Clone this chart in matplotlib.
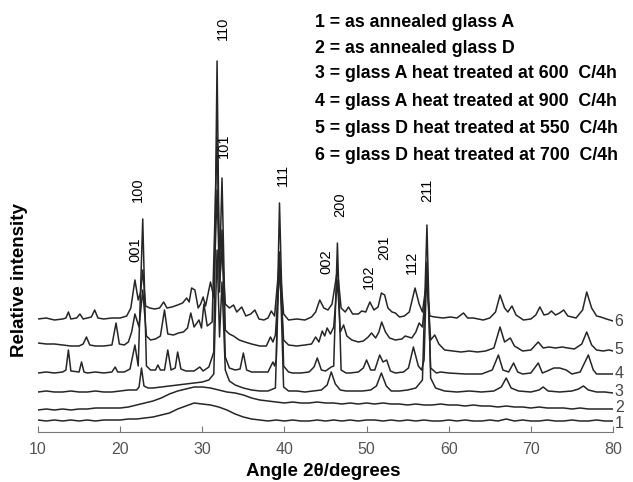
import numpy as np
import matplotlib
matplotlib.use('Agg')
import matplotlib.pyplot as plt

plt.rcParams['font.family'] = ['Liberation Sans', 'DejaVu Sans']

# XRD traces: (2theta in degrees, height above the axis line)
trace_1 = [(10, 12), (11, 11), (12, 12), (13, 11), (14, 12), (15, 11), (16, 12), (17, 11), (18, 12),
           (19, 12), (20, 12), (21, 13), (22, 13), (23, 14), (24, 15), (25, 17), (26, 19), (27, 23),
           (28, 26), (29, 29), (30, 28), (31, 27), (32, 25), (33, 22), (34, 18), (35, 15), (36, 13),
           (37, 12), (38, 11), (39, 12), (40, 11), (41, 12), (42, 11), (43, 11), (44, 12), (45, 11),
           (46, 12), (47, 11), (48, 12), (49, 11), (50, 12), (51, 12), (52, 11), (53, 12), (54, 11),
           (55, 12), (56, 11), (57, 12), (58, 11), (59, 11), (60, 12), (61, 11), (62, 12), (63, 11),
           (64, 11), (65, 12), (66, 11), (67, 13), (68, 11), (69, 12), (70, 11), (71, 11), (72, 12),
           (73, 11), (74, 11), (75, 12), (76, 11), (77, 11), (78, 12), (79, 11), (80, 11)]

trace_2 = [(10, 22), (11, 23), (12, 22), (13, 23), (14, 22), (15, 23), (16, 23), (17, 24), (18, 24),
           (19, 24), (20, 24), (21, 25), (22, 27), (23, 29), (24, 31), (25, 34), (26, 38), (27, 41),
           (28, 43), (29, 45), (30, 45), (31, 44), (32, 42), (33, 40), (34, 39), (35, 37), (36, 34),
           (37, 32), (38, 31), (39, 30), (40, 29), (41, 30), (42, 29), (43, 29), (44, 30), (45, 29),
           (46, 29), (47, 28), (48, 29), (49, 28), (50, 29), (51, 28), (52, 29), (53, 28), (54, 28),
           (55, 27), (56, 28), (57, 27), (58, 27), (59, 28), (60, 27), (61, 27), (62, 26), (63, 27),
           (64, 26), (65, 26), (66, 25), (67, 26), (68, 25), (69, 25), (70, 24), (71, 25), (72, 24),
           (73, 24), (74, 24), (75, 23), (76, 24), (77, 23), (78, 23), (79, 23), (80, 23)]

trace_3 = [(10, 40), (11, 41), (12, 40), (13, 40), (14, 41), (15, 40), (16, 40), (17, 41), (18, 40),
           (19, 40), (20, 41), (21, 42), (22, 42), (22.3, 45), (22.6, 64), (22.9, 46), (23.4, 44),
           (24, 44), (25, 45), (26, 46), (27, 47), (28, 48), (29, 49), (30, 50), (30.8, 52),
           (31.4, 58), (31.8, 182), (32.1, 95), (32.4, 150), (32.8, 62), (33.3, 51), (34, 47),
           (35, 44), (36, 42), (37, 41), (38, 41), (38.9, 44), (39.4, 180), (39.9, 45), (40.5, 41),
           (41.5, 41), (42.5, 40), (43.5, 41), (44.5, 42), (45.2, 47), (45.7, 60), (46.2, 48),
           (46.8, 42), (47.5, 41), (48.5, 41), (49.5, 41), (50.5, 42), (51.2, 46), (51.8, 59),
           (52.4, 46), (53, 41), (54, 41), (55, 42), (56, 44), (56.8, 52), (57.35, 207), (57.8, 54),
           (58.4, 44), (59.5, 41), (61, 40), (62.5, 41), (64, 40), (65.5, 41), (66.4, 45), (67.0, 54),
           (67.6, 44), (68.5, 41), (70, 40), (71, 42), (71.5, 45), (72.1, 41), (73.5, 40), (75, 41),
           (75.8, 43), (76.4, 46), (77, 42), (78, 40), (79, 40), (80, 39)]

trace_4 = [(10, 59), (11, 60), (12, 59), (13, 60), (13.4, 62), (13.7, 82), (14.0, 61), (15, 60),
           (15.3, 70), (15.6, 60), (16, 59), (17, 60), (18, 59), (19, 60), (19.4, 65), (19.7, 60),
           (20.5, 60), (21.2, 63), (21.5, 75), (21.8, 87), (22.2, 66), (22.75, 213), (23.2, 66),
           (23.7, 62), (24.3, 62), (24.6, 67), (24.9, 62), (25.4, 62), (25.8, 82), (26.2, 62),
           (26.7, 64), (27.0, 80), (27.4, 63), (28, 61), (29, 61), (29.7, 65), (30.1, 61),
           (30.8, 65), (31.4, 80), (31.8, 371), (32.1, 140), (32.4, 202), (32.8, 75), (33.3, 64),
           (34, 62), (34.6, 63), (35.0, 79), (35.4, 62), (36, 60), (37, 60), (38, 60), (38.6, 70),
           (38.8, 66), (39.0, 72), (39.4, 229), (39.9, 66), (40.5, 60), (41, 59), (42, 59), (43, 60),
           (43.6, 65), (44.0, 74), (44.5, 62), (45, 61), (45.7, 65), (46.0, 66), (46.45, 189),
           (46.9, 62), (47.5, 59), (48, 59), (49, 60), (49.6, 64), (50.0, 72), (50.5, 62), (51, 62),
           (51.6, 77), (52.0, 70), (52.45, 72), (52.9, 61), (53.5, 59), (54.5, 60), (55.1, 64),
           (55.7, 85), (56.3, 66), (56.7, 62), (57.0, 72), (57.35, 170), (57.8, 64), (58.5, 59),
           (59, 60), (60, 59), (62, 58), (64, 58), (65.3, 62), (66.05, 77), (66.6, 62), (67.3, 60),
           (67.9, 69), (68.4, 60), (69, 58), (70, 59), (70.9, 69), (71.4, 59), (72, 61), (72.8, 64),
           (73.5, 64), (74.3, 62), (75, 58), (76, 60), (77.0, 77), (77.6, 62), (78, 58), (79, 58),
           (80, 58)]

trace_5 = [(10, 89), (11, 88), (12, 88), (13, 87), (14, 86), (15, 86), (15.5, 88), (15.9, 95),
           (16.3, 87), (17, 86), (18, 86), (19, 87), (19.5, 109), (19.9, 88), (20.5, 87), (21, 90),
           (21.4, 100), (21.8, 118), (22.3, 105), (22.75, 142), (23.2, 96), (23.7, 92), (24.3, 93),
           (24.9, 96), (25.4, 122), (25.8, 98), (26.5, 97), (27.1, 99), (27.7, 100), (28.2, 104),
           (28.6, 119), (29.0, 105), (29.6, 112), (29.9, 104), (30.2, 128), (30.6, 106), (31.2, 110),
           (31.8, 295), (32.1, 160), (32.4, 254), (32.8, 102), (33.3, 98), (33.8, 96), (34.5, 92),
           (35.2, 90), (36, 88), (37, 86), (37.8, 86), (38.3, 95), (38.6, 90), (38.9, 97),
           (39.4, 162), (39.9, 92), (40.5, 87), (41.5, 86), (42.5, 87), (43.3, 88), (43.8, 95),
           (44.2, 90), (44.6, 101), (44.9, 96), (45.2, 104), (45.6, 98), (46.0, 105), (46.45, 152),
           (46.8, 100), (47.2, 107), (47.6, 96), (48.2, 92), (49, 90), (49.6, 91), (50.2, 95),
           (50.6, 99), (51.1, 94), (51.5, 100), (51.84, 110), (52.3, 100), (52.8, 94), (53.5, 92),
           (54.3, 93), (54.7, 96), (55.1, 95), (55.5, 94), (56.0, 100), (56.4, 109), (56.8, 105),
           (57.35, 152), (57.8, 92), (58.3, 97), (58.8, 88), (59.5, 82), (60.5, 81), (61.5, 80),
           (62.5, 81), (63.5, 80), (64.5, 81), (65.5, 84), (66.25, 105), (66.8, 90), (67.5, 94),
           (68, 86), (69, 81), (70, 82), (70.9, 90), (71.5, 84), (72.2, 85), (73, 84), (73.8, 85),
           (74.5, 84), (75.3, 83), (76.2, 88), (76.8, 100), (77.4, 87), (78, 82), (78.8, 81),
           (79.5, 82), (80, 81)]

trace_6 = [(10, 113), (11, 114), (12, 112), (13, 113), (13.4, 114), (13.7, 120), (14.0, 113),
           (14.7, 114), (15.1, 118), (15.5, 113), (16, 114), (16.5, 115), (16.9, 122), (17.3, 114),
           (18, 113), (19, 114), (20, 114), (20.8, 116), (21.3, 124), (21.8, 152), (22.2, 132),
           (22.5, 140), (22.75, 162), (23.1, 126), (23.6, 124), (24.2, 123), (24.8, 124), (25.3, 130),
           (25.7, 124), (26.3, 125), (27, 127), (27.6, 129), (28.1, 134), (28.4, 130), (28.7, 144),
           (29.1, 142), (29.5, 124), (29.8, 128), (30.1, 135), (30.4, 126), (31.0, 150), (31.4, 135),
           (31.8, 242), (32.1, 150), (32.4, 182), (32.8, 128), (33.3, 124), (33.8, 127), (34.2, 120),
           (34.8, 125), (35.3, 116), (35.9, 118), (36.4, 122), (36.9, 113), (37.5, 112), (38.0, 114),
           (38.4, 121), (38.8, 116), (39.4, 172), (39.9, 118), (40.5, 112), (41.5, 113), (42.5, 112),
           (43.3, 115), (43.8, 120), (44.3, 132), (44.8, 124), (45.3, 122), (45.8, 128), (46.45, 162),
           (46.9, 124), (47.4, 120), (47.8, 125), (48.3, 118), (49, 118), (49.4, 121), (49.9, 120),
           (50.4, 130), (50.9, 122), (51.4, 125), (51.8, 139), (52.2, 137), (52.6, 124), (53.1, 120),
           (53.5, 119), (54, 115), (54.6, 116), (55.2, 120), (55.9, 144), (56.4, 128), (56.8, 120),
           (57.3, 150), (57.7, 116), (58.3, 115), (59.3, 114), (60.2, 115), (61, 114), (61.8, 119),
           (62.3, 114), (63, 114), (64.2, 112), (65, 114), (65.7, 120), (66.25, 137), (66.8, 124),
           (67.2, 120), (67.7, 126), (68.2, 117), (69.1, 112), (70, 113), (70.6, 117), (71.1, 125),
           (71.6, 117), (72.1, 118), (72.5, 121), (73, 117), (73.5, 119), (74, 122), (74.5, 116),
           (75.5, 114), (76.3, 122), (76.8, 140), (77.4, 124), (78, 116), (78.5, 115), (79.2, 113),
           (80, 111)]

traces = [trace_1, trace_2, trace_3, trace_4, trace_5, trace_6]
trace_names = ['1', '2', '3', '4', '5', '6']
name_heights = [9, 25, 40, 59, 82, 110]

# Miller indices over the peaks
hkl_labels = ['110', '101', '111', '100', '001', '200', '002', '102', '201', '112', '211']
hkl_x = [32.52, 32.64, 39.83, 22.11, 21.81, 46.77, 45.06, 50.30, 52.12, 55.53, 57.36]
hkl_y = [404, 286, 257, 242, 182, 227, 170, 155, 184, 170, 242]

legend_lines = ['1 = as annealed glass A',
                '2 = as annealed glass D',
                '3 = glass A heat treated at 600  C/4h',
                '4 = glass A heat treated at 900  C/4h',
                '5 = glass D heat treated at 550  C/4h',
                '6 = glass D heat treated at 700  C/4h']
legend_y = [409.3, 383.7, 358, 330.3, 303.7, 277]

fig = plt.figure(figsize=(6.33, 4.82), dpi=100)
ax = fig.add_axes([38 / 633, 50 / 482, 575 / 633, 422 / 482])

for tr in traces:
    arr = np.array(tr)
    ax.plot(arr[:, 0], arr[:, 1], color='#262626', lw=1.1)

for name, h in zip(trace_names, name_heights):
    ax.text(80.75, h, name, ha='center', va='center', fontsize=11.5, color='#444444', clip_on=False)

for lab, x, y in zip(hkl_labels, hkl_x, hkl_y):
    ax.text(x, y, lab, rotation=90, ha='center', va='center', fontsize=10.5)

for line, y in zip(legend_lines, legend_y):
    ax.text(43.72, y, line, ha='left', va='center', fontsize=12.8, fontweight='bold')

ax.set_xlim(10, 80)
ax.set_ylim(0, 422)
ax.set_yticks([])
ax.set_xticks(range(10, 81, 10))
for s in ['left', 'top', 'right']:
    ax.spines[s].set_visible(False)
ax.spines['bottom'].set_color('#777777')
ax.spines['bottom'].set_linewidth(0.8)
ax.tick_params(axis='x', direction='in', length=4, color='#777777', labelcolor='#555555',
               labelsize=11.5, pad=7)

fig.text(323 / 633, 1 - 472 / 482, 'Angle 2\u03b8/degrees', ha='center', va='center',
         fontsize=13.5, fontweight='bold')
fig.text(20 / 633, 1 - 280 / 482, 'Relative intensity', ha='center', va='center',
         rotation=90, fontsize=13.5, fontweight='bold')

fig.savefig('out.png', dpi=100)
